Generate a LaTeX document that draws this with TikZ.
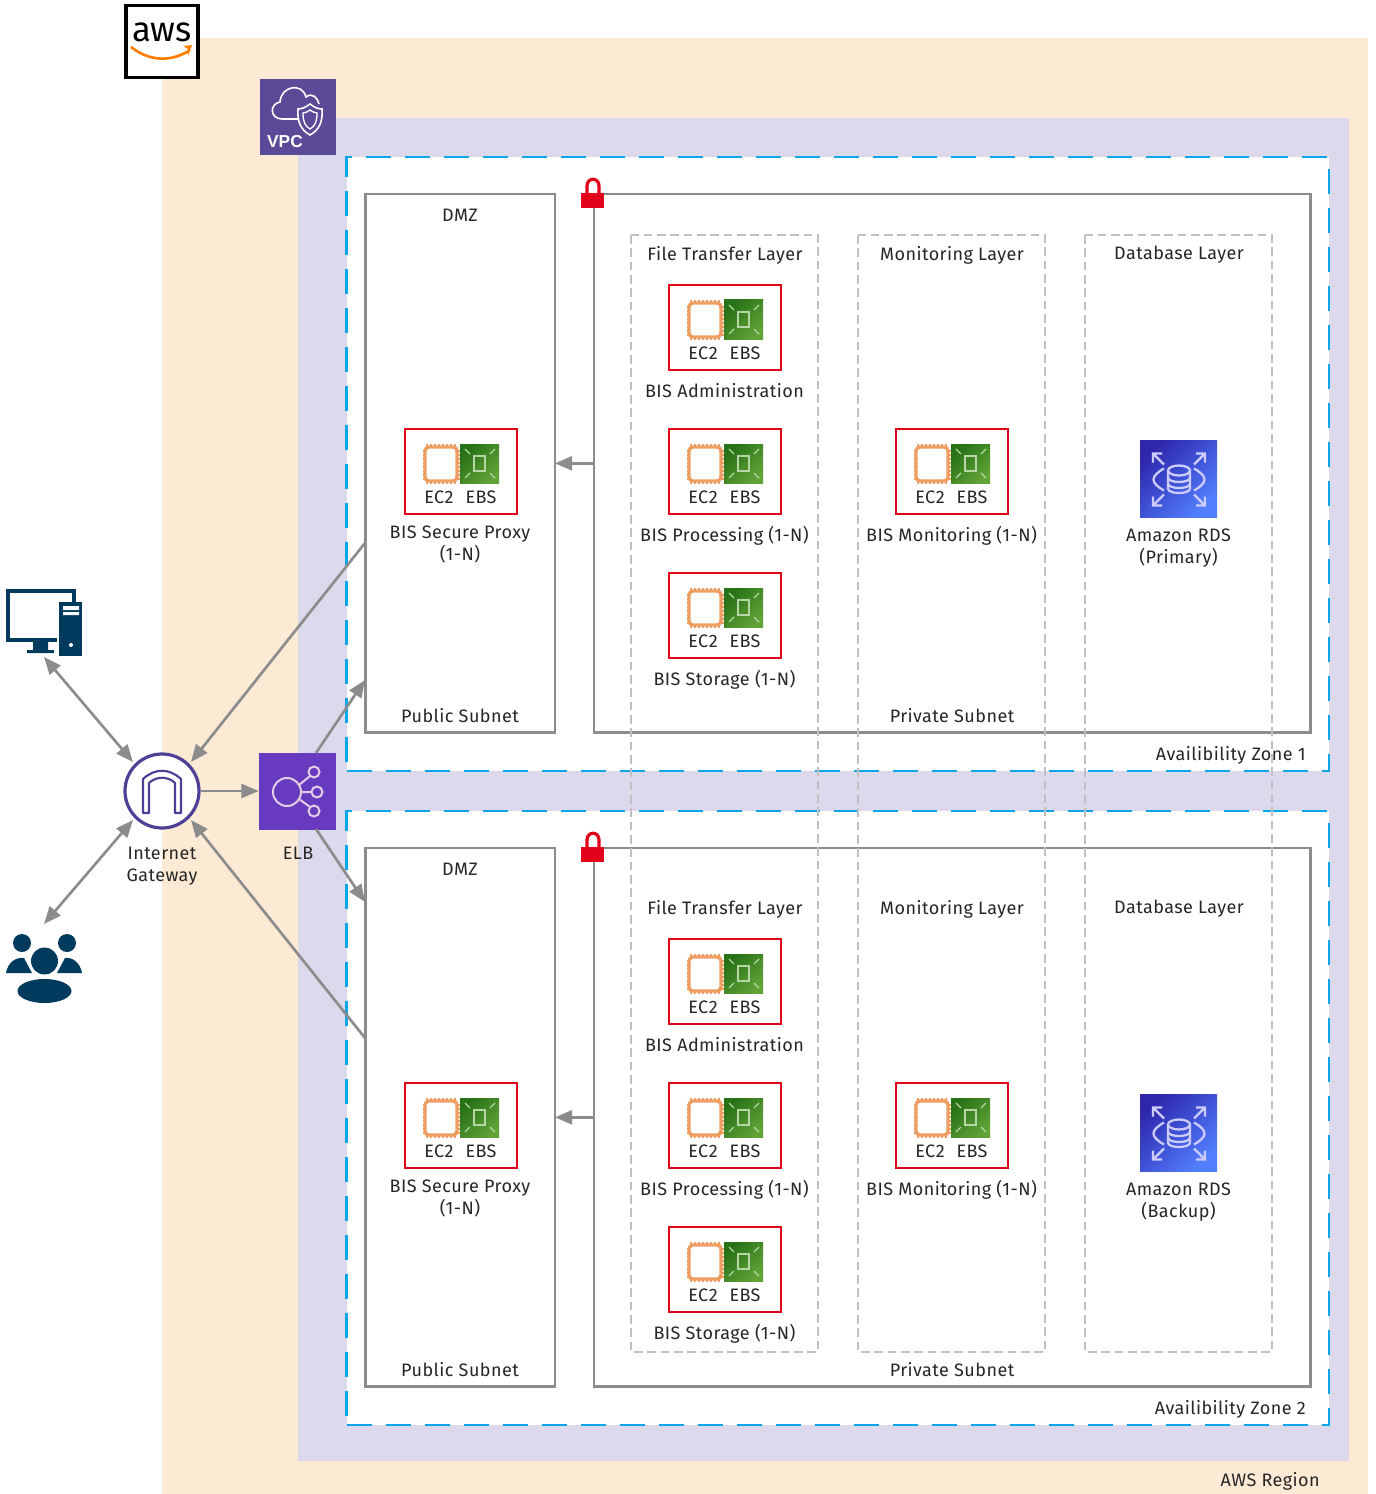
\documentclass[tikz,border=0pt]{standalone}
\usepackage{fontspec}
\setmainfont[LetterSpace=2.5]{Fira Sans}
\newfontfamily\vpcfont{Liberation Sans}
\newfontfamily\logofont{Fira Sans}
\usetikzlibrary{calc,arrows.meta}
\definecolor{regionbg}{HTML}{FDEAD4}
\definecolor{vpcbg}{HTML}{DCD9EC}
\definecolor{azblue}{HTML}{0BA5E9}
\definecolor{linegray}{HTML}{8C8C8C}
\definecolor{layergray}{HTML}{C0C0C0}
\definecolor{lockred}{HTML}{E3001B}
\definecolor{navy}{HTML}{003A5C}
\definecolor{chiporange}{HTML}{EE9E62}
\definecolor{igwpurple}{HTML}{4F3F96}
\definecolor{vpcpurple}{HTML}{5A4A98}
\definecolor{elbpurple}{HTML}{683AC0}
\definecolor{ebsdark}{HTML}{277116}
\definecolor{ebslight}{HTML}{60A337}
\definecolor{rdsdark}{HTML}{2E27AD}
\definecolor{rdslight}{HTML}{527FFF}
\tikzset{
  lbl/.style={font=\fontsize{13.5}{16.5}\selectfont, text=black!85, align=center, inner sep=0pt},
  subnet/.style={draw=linegray, line width=1.9pt, fill=white, inner sep=0pt, outer sep=0pt, anchor=north west},
  redbox/.style={draw=lockred, line width=1.7pt, inner sep=0pt, outer sep=0pt, anchor=north west, minimum width=84pt, minimum height=63.5pt},
  link/.style={draw=linegray, line width=2pt, -{Triangle[length=13pt,width=10.5pt]}},
  biglink/.style={link, {Triangle[length=13pt,width=10.5pt]}-{Triangle[length=13pt,width=10.5pt]}},
  iconline/.style={line width=0.9pt, draw=ebslight!45!white}
}
% EC2 + EBS group, top left corner of the red box at #1,#2
\newcommand{\bisgroup}[3]{
  \node[redbox] (#3) at (#1,#2) {};
  \begin{scope}[shift={(#1,#2)}]
    \draw[draw=chiporange, line width=2.5pt, rounded corners=3pt, fill=white] (20,18) rectangle (52,52);
    \foreach \p in {22,26,30,34,38,42,46,50} {
      \draw[draw=chiporange, line width=0.8pt] (\p,15) -- (\p,18) (\p,52) -- (\p,55);
      \draw[draw=chiporange, line width=0.8pt] (18,\p) -- (20,\p) (52,\p) -- (55,\p);
    }
    \path[left color=ebsdark, right color=ebslight, shading angle=45] (55,15) rectangle (94,54);
    \draw[iconline] (69,27) rectangle (80,42);
    \draw[iconline] (60,20) -- (65,25) (90,20) -- (85,25) (60,49) -- (65,44) (90,49) -- (85,44);
    \node[lbl] (#3ec2) at (34,68) {EC2};
    \node[lbl] (#3ebs) at (76,68) {EBS};
  \end{scope}
}
\begin{document}
\begin{tikzpicture}[x=0.75pt,y=0.75pt,yscale=-1,xscale=1]
\useasboundingbox (0,0) rectangle (1375,1494);
%Shape: Rectangle
\fill[regionbg] (162,38) rectangle (1368,1494);
\fill[vpcbg] (298,118) rectangle (1349,1461);
\node[lbl, anchor=east] (regionlbl) at (1320,1481) {AWS Region};
%AWS logo
\node[draw=black, line width=2.4pt, fill=white, minimum size=54pt, inner sep=0pt] (awslogo) at (162,41.5) {};
\node[inner sep=0pt, font=\logofont\fontsize{26}{26}\selectfont] (awstext) at (162,32) {aws};
\draw[draw=orange, line width=2pt] (131,47) .. controls (150,62) and (172,62) .. (190,50);
\fill[orange] (183,46) -- (192,45) -- (188,56) -- (188,49) -- cycle;
%VPC icon
\node[fill=vpcpurple, minimum size=57pt, inner sep=0pt] (vpcicon) at (298,117) {};
\draw[draw=white, line width=1.2pt] (298,119) -- (282,119) .. controls (270,119) and (269,104) .. (280,102) .. controls (281,86) and (302,82) .. (306,97) .. controls (312,92) and (318,98) .. (319,104);
\draw[draw=white, line width=1.2pt, fill=vpcpurple] (310,104) .. controls (315,108) and (319,109) .. (322,109) .. controls (323,122) and (319,130) .. (310,135) .. controls (301,130) and (297,122) .. (298,109) .. controls (302,109) and (306,107) .. (310,104) -- cycle;
\draw[draw=white, line width=1pt] (310,110) .. controls (313,112) and (315,113) .. (317,113) .. controls (317,122) and (315,126) .. (310,129) .. controls (305,126) and (303,122) .. (303,113) .. controls (305,113) and (307,112) .. (310,110) -- cycle;
\node[inner sep=0pt, text=white, font=\vpcfont\bfseries\fontsize{13}{13}\selectfont] (vpclbl) at (285,142) {VPC};
\foreach \z/\dy/\rds in {1/0/Primary,2/654/Backup} {
  %Availability zone
  \node[draw=azblue, dash pattern=on 18.75pt off 10.5pt, line width=1.6pt, fill=white, inner sep=0pt, outer sep=0pt, anchor=north west, minimum width=737pt, minimum height=460.5pt] (az\z) at (346.5,157+\dy) {};
  \node[lbl, anchor=east] (azlbl\z) at (1306,755+\dy) {Availibility Zone \z};
  %Subnets
  \node[subnet, minimum width=142pt, minimum height=404pt] (dmz\z) at (365.5,194+\dy) {};
  \node[subnet, minimum width=537.5pt, minimum height=404pt] (prv\z) at (594,194+\dy) {};
  \node[lbl] (dmzlbl\z) at (460,215+\dy) {DMZ};
  \node[lbl] (publbl\z) at (460,716+\dy) {Public Subnet};
  \node[lbl] (prvlbl\z) at (952,716+\dy) {Private Subnet};
  %Lock
  \draw[draw=lockred, line width=2.4pt] (587,195+\dy) -- (587,186+\dy) .. controls (587,177+\dy) and (599,177+\dy) .. (599,186+\dy) -- (599,195+\dy);
  \fill[lockred] (581,193+\dy) rectangle (604,208+\dy);
  %Layer titles
  \node[lbl] (ftlbl\z) at (725,255+\dy) {File Transfer Layer};
  \node[lbl] (monlbl\z) at (952,255+\dy) {Monitoring Layer};
  \node[lbl] (dblbl\z) at (1179,255+\dy) {Database Layer};
  %Groups
  \bisgroup{405}{429+\dy}{proxy\z}
  \node[lbl] (proxylbl\z) at (460,544+\dy) {BIS Secure Proxy\\(1-N)};
  \bisgroup{669}{285+\dy}{admin\z}
  \node[lbl] (adminlbl\z) at (724.5,391+\dy) {BIS Administration};
  \bisgroup{669}{429+\dy}{proc\z}
  \node[lbl] (proclbl\z) at (724.5,536+\dy) {BIS Processing (1-N)};
  \bisgroup{669}{573+\dy}{stor\z}
  \node[lbl] (storlbl\z) at (724.5,680+\dy) {BIS Storage (1-N)};
  \bisgroup{896}{429+\dy}{mon\z}
  \node[lbl] (monitlbl\z) at (951.5,536+\dy) {BIS Monitoring (1-N)};
  %RDS icon
  \node[left color=rdsdark, right color=rdslight, shading angle=45, minimum size=57.75pt, inner sep=0pt] (rds\z) at (1178.5,478.5+\dy) {};
  \begin{scope}[shift={(1179,479.5+\dy)}, draw=white!80!blue, line width=1.7pt]
    \draw (-11,-9) -- (-11,9) .. controls (-11,15) and (11,15) .. (11,9) -- (11,-9);
    \draw (0,-9) ellipse [x radius=11, y radius=5];
    \draw (-11,-2) .. controls (-11,4) and (11,4) .. (11,-2);
    \draw (-11,4) .. controls (-11,10) and (11,10) .. (11,4);
    \draw (-15,-11) .. controls (-29,-3) and (-29,3) .. (-15,11);
    \draw (15,-11) .. controls (29,-3) and (29,3) .. (15,11);
    \foreach \sx/\sy in {-1/-1,1/-1,-1/1,1/1} {
      \draw (\sx*15,\sy*15) -- (\sx*26,\sy*26) (\sx*26,\sy*17) -- (\sx*26,\sy*26) -- (\sx*17,\sy*26);
    }
  \end{scope}
  \node[lbl] (rdslbl\z) at (1178.5,548+\dy) {Amazon RDS\\(\rds)};
  \draw[link] (prv\z.west) -- (dmz\z.east);
}
%Dashed layers
\foreach \lx in {631,858,1085} {
  \draw[draw=layergray, line width=1.9pt, dash pattern=on 6.5pt off 3.5pt] (\lx,235) rectangle (\lx+187,1352);
}
%Internet gateway
\node[circle, draw=igwpurple, line width=2.4pt, fill=white, minimum size=55.5pt, inner sep=0pt, outer sep=3pt] (igw) at (162,791) {};
\draw[draw=igwpurple, line width=1.6pt, line join=round] (143,813) -- (143,779) .. controls (155,768) and (169,768) .. (181,779) -- (181,813) -- (175,813) -- (175,783) .. controls (168,776) and (156,776) .. (149,783) -- (149,813) -- cycle;
\node[lbl] (igwlbl) at (162,866) {Internet\\Gateway};
%ELB
\node[fill=elbpurple, minimum size=57.75pt, inner sep=0pt] (elb) at (297.5,791) {};
\begin{scope}[draw=white!80!violet, line width=1.5pt]
  \draw (287,792) circle [radius=14];
  \draw (314,772) circle [radius=5.5];
  \draw (317,792) circle [radius=5.5];
  \draw (314,811) circle [radius=5.5];
  \draw (299,785) -- (310,776) (301,792) -- (311.5,792) (299,799) -- (310,807);
\end{scope}
\node[lbl] (elblbl) at (298,853) {ELB};
%Desktop
\draw[draw=navy, line width=3pt] (8,591) rectangle (74,640);
\fill[navy] (33,641) rectangle (48,650) (27,650) rectangle (54,653);
\fill[white] (57,600) rectangle (59,658);
\fill[navy] (59,602) rectangle (82,656);
\fill[white] (63,606) rectangle (79,610) (63,612) rectangle (79,615);
\fill[white] (71,645) circle [radius=2];
\coordinate (pc) at (44,657);
%Users
\fill[navy] (22,943) circle [radius=9] (67,943) circle [radius=9];
\fill[navy] (6,973) .. controls (8,962) and (16,957) .. (24,958) -- (32,973) -- cycle;
\fill[navy] (82,973) .. controls (80,962) and (72,957) .. (65,958) -- (57,973) -- cycle;
\fill[navy] (44.5,961) circle [radius=13.5];
\draw[draw=white, line width=1.5pt] (44.5,961) circle [radius=15];
\fill[navy] (44.5,991) ellipse [x radius=27, y radius=12];
\coordinate (users) at (44,924);
%Connectors
\coordinate (dmzout1) at (365,543);
\coordinate (dmzin1) at (365,680);
\coordinate (dmzin2) at (365,902);
\coordinate (dmzout2) at (365,1038);
\coordinate (elbtop) at (316,753);
\coordinate (elbbot) at (316,829);
\draw[biglink] (pc) -- (igw.135);
\draw[biglink] (users) -- (igw.225);
\draw[link] (dmzout1) -- (igw.45);
\draw[link] (dmzout2) -- (igw.315);
\draw[link, shorten <=-2pt] (igw.east) -- (elb.west);
\draw[link] (elbtop) -- (dmzin1);
\draw[link] (elbbot) -- (dmzin2);
\end{tikzpicture}
\end{document}
